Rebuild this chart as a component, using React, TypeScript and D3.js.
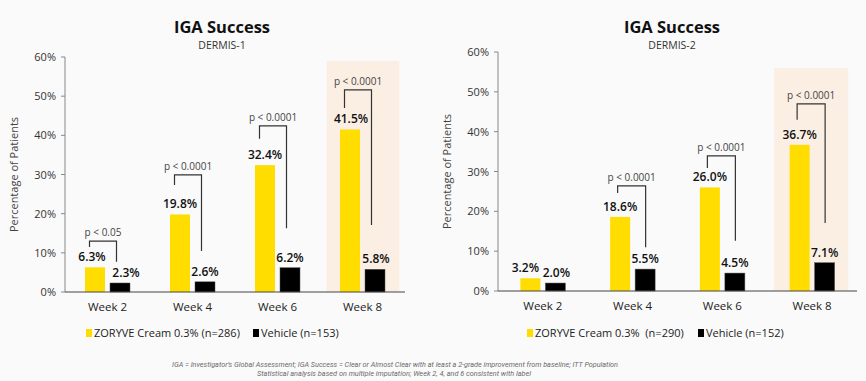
import React from "react";
import * as d3 from "d3";

const weeks = ["Week 2", "Week 4", "Week 6", "Week 8"];
const seriesNames = ["ZORYVE", "Vehicle"];
const yTicks = [0, 10, 20, 30, 40, 50, 60];

const d1Zoryve = [6.3, 19.8, 32.4, 41.5];
const d1Vehicle = [2.3, 2.6, 6.2, 5.8];
const d1PLabels = ["p < 0.05", "p < 0.0001", "p < 0.0001", "p < 0.0001"];
const d1BracketTop = [13.0, 29.9, 42.4, 51.6];
const d1BracketLeftEnd = [11.5, 27.3, 39.1, 47.0];
const d1BracketRightEnd = [7.7, 10.5, 16.3, 17.1];
const d1Legend = ["ZORYVE Cream 0.3% (n=286)", "Vehicle (n=153)"];

const d2Zoryve = [3.2, 18.6, 26.0, 36.7];
const d2Vehicle = [2.0, 5.5, 4.5, 7.1];
const d2PLabels = ["", "p < 0.0001", "p < 0.0001", "p < 0.0001"];
const d2BracketTop = [0, 26.4, 33.9, 47.0];
const d2BracketLeftEnd = [0, 24.6, 30.9, 43.0];
const d2BracketRightEnd = [0, 11.0, 12.6, 17.1];
const d2Legend = ["ZORYVE Cream 0.3%\u00a0 (n=290)", "Vehicle (n=152)"];

const footnote1 =
  "IGA = Investigator\u2019s Global Assessment; IGA Success = Clear or Almost Clear with at least a 2-grade improvement from baseline; ITT Population";
const footnote2 = "Statistical analysis based on multiple imputation; Week 2, 4, and 6 consistent with label";

const FONT = "'Open Sans', 'Noto Sans', sans-serif";
const YELLOW = "#FFDD00";
const BLACK = "#000000";

type ChartProps = {
  subtitle: string;
  zoryve: number[];
  vehicle: number[];
  pLabels: string[];
  bTop: number[];
  bLeft: number[];
  bRight: number[];
  legend: string[];
  x0: number;
  x1: number;
  yTopPx: number;
  yBotPx: number;
  titleX: number;
  yLabelX: number;
  bOffL: number;
  bOffR: number;
  hlTop: number;
  hlL: number;
  hlR: number;
  legendX: number[];
  labelShift: number[][];
};

function Chart(p: ChartProps) {
  const x = d3.scaleBand<string>().domain(weeks).range([p.x0, p.x1]).padding(0);
  const y = d3.scaleLinear().domain([0, 60]).range([p.yBotPx, p.yTopPx]);
  const bw = x.bandwidth();
  const groupW = 45;
  const inner = d3.scaleBand<string>().domain(seriesNames).range([-groupW / 2, groupW / 2]).paddingInner(0.2);
  const c = (w: string) => (x(w) as number) + bw / 2;
  const last = weeks[weeks.length - 1];
  return (
    <g fontFamily={FONT}>
      <rect
        x={c(last) + p.hlL}
        width={p.hlR - p.hlL}
        y={y(p.hlTop)}
        height={y(0) - y(p.hlTop)}
        fill="#FBEFE4"
      />
      <text x={p.titleX} y={33} textAnchor="middle" fontSize={16.5} fontWeight={700} fill="#111">
        IGA Success
      </text>
      <text x={p.titleX} y={49} textAnchor="middle" fontSize={10.5} fill="#333">
        {p.subtitle}
      </text>
      <line x1={p.x0} x2={p.x0} y1={y(60)} y2={y(0)} stroke="#888" strokeWidth={1} />
      {yTicks.map((t) => (
        <g key={t}>
          <line x1={p.x0 - 4} x2={p.x0} y1={y(t)} y2={y(t)} stroke="#888" />
          <text x={p.x0 - 9} y={y(t) + 4} textAnchor="end" fontSize={11} fill="#333">
            {t}%
          </text>
        </g>
      ))}
      <text
        transform={`translate(${p.yLabelX},${(y(0) + y(60)) / 2}) rotate(-90)`}
        textAnchor="middle"
        fontSize={11}
        fill="#444"
      >
        Percentage of Patients
      </text>
      {weeks.map((w, i) => {
        const cx = c(w);
        const xs = cx + (inner("ZORYVE") as number);
        const xv = cx + (inner("Vehicle") as number);
        const ib = inner.bandwidth();
        return (
          <g key={w}>
            <rect x={xs} width={ib} y={y(p.zoryve[i])} height={y(0) - y(p.zoryve[i])} fill={YELLOW} />
            <rect x={xv} width={ib} y={y(p.vehicle[i])} height={y(0) - y(p.vehicle[i])} fill={BLACK} stroke="#555" strokeWidth={0.5} />
            <text x={xs + ib / 2 + p.labelShift[0][i]} y={y(p.zoryve[i]) - 6} textAnchor="middle" fontSize={12} fontWeight={600} fill="#111">
              {p.zoryve[i].toFixed(1)}%
            </text>
            <text x={xv + ib / 2 + p.labelShift[1][i]} y={y(p.vehicle[i]) - 6} textAnchor="middle" fontSize={12} fontWeight={600} fill="#111">
              {p.vehicle[i].toFixed(1)}%
            </text>
            <text x={cx} y={y(0) + 19} textAnchor="middle" fontSize={11.5} fill="#222">
              {w}
            </text>
            {p.pLabels[i] && (
              <g>
                <path
                  d={`M${cx + p.bOffL},${y(p.bLeft[i])}V${y(p.bTop[i])}H${cx + p.bOffR}V${y(p.bRight[i])}`}
                  fill="none"
                  stroke="#333"
                  strokeWidth={1.2}
                />
                <text x={(cx + p.bOffL + cx + p.bOffR) / 2} y={y(p.bTop[i]) - 5} textAnchor="middle" fontSize={10} fill="#444">
                  {p.pLabels[i]}
                </text>
              </g>
            )}
          </g>
        );
      })}
      <line x1={p.x0} x2={p.x1} y1={y(0)} y2={y(0)} stroke="#444" strokeWidth={1.2} />
      <rect x={p.legendX[0]} y={329} width={6} height={8} fill={YELLOW} />
      <text x={p.legendX[0] + 8} y={337} fontSize={11} fill="#222" style={{ whiteSpace: "pre" }}>
        {p.legend[0]}
      </text>
      <rect x={p.legendX[1]} y={329} width={6} height={8} fill={BLACK} />
      <text x={p.legendX[1] + 8} y={337} fontSize={11} fill="#222">
        {p.legend[1]}
      </text>
    </g>
  );
}

export default function App() {
  return (
    <svg
      width={866}
      height={381}
      style={{ position: "absolute", left: 0, top: 0, display: "block" }}
    >
      <rect width={866} height={381} fill="#FAFAFA" />
      <Chart
        subtitle="DERMIS-1"
        zoryve={d1Zoryve}
        vehicle={d1Vehicle}
        pLabels={d1PLabels}
        bTop={d1BracketTop}
        bLeft={d1BracketLeftEnd}
        bRight={d1BracketRightEnd}
        legend={d1Legend}
        x0={65}
        x1={405}
        yTopPx={57}
        yBotPx={292}
        titleX={222}
        yLabelX={18}
        bOffL={-18}
        bOffR={9}
        hlTop={59}
        hlL={-36}
        hlR={37}
        legendX={[86, 253]}
        labelShift={[[-3, 0, 0, 1], [6, 0, 0, 1]]}
      />
      <Chart
        subtitle="DERMIS-2"
        zoryve={d2Zoryve}
        vehicle={d2Vehicle}
        pLabels={d2PLabels}
        bTop={d2BracketTop}
        bLeft={d2BracketLeftEnd}
        bRight={d2BracketRightEnd}
        legend={d2Legend}
        x0={498}
        x1={857}
        yTopPx={52}
        yBotPx={291}
        titleX={672}
        yLabelX={451}
        bOffL={-15}
        bOffR={13}
        hlTop={56}
        hlL={-38}
        hlR={36}
        legendX={[527, 698]}
        labelShift={[[-5, 0, 0, 0], [1, 0, 0, 0]]}
      />
      <g fontFamily="Roboto, 'Noto Sans', sans-serif" fontStyle="italic" fill="#6a6a6a" fontSize={8}>
        <text x={395} y={367} textAnchor="middle" textLength={446} lengthAdjust="spacingAndGlyphs">
          {footnote1}
        </text>
        <text x={394} y={376} textAnchor="middle" textLength={274} lengthAdjust="spacingAndGlyphs">
          {footnote2}
        </text>
      </g>
    </svg>
  );
}
